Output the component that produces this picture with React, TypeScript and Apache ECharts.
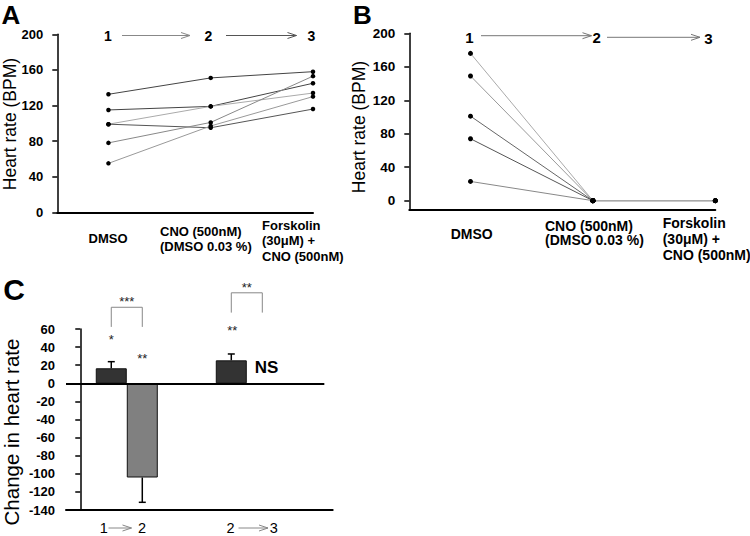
import React, { useEffect, useRef } from 'react';
import * as echarts from 'echarts';

const FONT = 'Arial, "Liberation Sans", Helvetica, sans-serif';

// ---------- Panels A & B : heart rate (BPM) per animal at stage 1, 2, 3 ----------
const stages = [1, 2, 3];
const stageNumbers = ['1', '2', '3'];
const stageLabels = ['DMSO', 'CNO (500nM)\n(DMSO 0.03 %)', 'Forskolin\n(30μM) +\nCNO (500nM)'];
const heartRateTicks = [0, 40, 80, 120, 160, 200];

const panelA = [
  [132.6, 151, 158],
  [115, 119, 145],
  [99, 119, 134],
  [99, 95, 116],
  [78, 101, 153],
  [55, 97, 130],
];
const panelAColors = ['#444', '#444', '#aaa', '#555', '#888', '#999'];

const panelB = [
  [176, 0, 0],
  [149, 0, 0],
  [101, 0, 0],
  [74, 0, 0],
  [23, 0, 0],
];
const panelBColors = ['#aaa', '#999', '#666', '#555', '#888'];

// ---------- Panel C : change in heart rate ----------
const changePairs = [['1', '2'], ['2', '3']];
const changeMeans = [16.6, -104.1, 25.4];
const changeErrors = [7.3, 27.4, 7.0];
const changeColors = ['#333', '#808080', '#333'];
const barX = [1, 2, 4.87];
const changeTicks = { min: -140, max: 60, interval: 20 };

// significance annotations: [x, y, text]
const sigMarks: [number, number, string][] = [
  [1, 48.2, '*'],
  [2, 26.9, '**'],
  [1.5, 90.6, '***'],
  [4.9, 58.1, '**'],
  [5.37, 106.4, '**'],
];
// brackets: [xLeft, xRight, yTop, yEnd]
const brackets: [number, number, number, number][] = [
  [1, 2, 84, 62.3],
  [4.87, 5.87, 100, 78.1],
];
const nsMark: [number, number, string] = [6.01, 17.7, 'NS'];

function txt(x: number, y: number, text: string, size: number, o: any = {}) {
  return {
    type: 'text',
    x,
    y,
    rotation: o.rot || 0,
    silent: true,
    style: {
      text,
      fontSize: size,
      fontFamily: FONT,
      fontWeight: o.bold ? 'bold' : 'normal',
      fill: '#000',
      textAlign: o.align || 'center',
      textVerticalAlign: 'middle',
      lineHeight: o.lh,
    },
  };
}

function arrow(x1: number, x2: number, y: number, color: string) {
  return [
    { type: 'line', silent: true, shape: { x1, y1: y, x2, y2: y }, style: { stroke: color, lineWidth: 1 } },
    {
      type: 'polyline',
      silent: true,
      shape: { points: [[x2 - 9, y - 3], [x2, y], [x2 - 9, y + 3]] },
      style: { stroke: color, fill: 'none', lineWidth: 1 },
    },
  ];
}

const axisBlack = { color: '#000', width: 1.5 };
const tickLabelStyle = { color: '#000', fontWeight: 'bold', fontSize: 13, fontFamily: FONT };

export default function App() {
  const ref = useRef<HTMLDivElement>(null);
  useEffect(() => {
    document.body.style.margin = '0';
    const chart = echarts.init(ref.current!, null, { renderer: 'svg' });

    const lineSeries: any[] = [];
    panelA.forEach((vals, i) => {
      lineSeries.push({
        type: 'line',
        xAxisIndex: 0,
        yAxisIndex: 0,
        data: vals.map((v, k) => [stages[k], v]),
        symbol: 'circle',
        symbolSize: 4.5,
        itemStyle: { color: '#000' },
        lineStyle: { color: panelAColors[i], width: 1 },
        z: 3,
      });
    });
    panelB.forEach((vals, i) => {
      lineSeries.push({
        type: 'line',
        xAxisIndex: 1,
        yAxisIndex: 1,
        data: vals.slice(1).map((v, k) => [stages[k + 1], v]),
        symbol: 'circle',
        symbolSize: 5,
        itemStyle: { color: '#000' },
        lineStyle: { color: '#aaa', width: 1 },
        z: 2,
      });
      lineSeries.push({
        type: 'line',
        xAxisIndex: 1,
        yAxisIndex: 1,
        data: vals.slice(0, 2).map((v, k) => [stages[k], v]),
        symbol: 'circle',
        symbolSize: 5,
        itemStyle: { color: '#000' },
        lineStyle: { color: panelBColors[i], width: 1 },
        z: 3,
      });
    });

    const graphic: any[] = [
      txt(11, 15, 'A', 26, { bold: true, lh: 26 }),
      txt(362.5, 15, 'B', 26, { bold: true, lh: 26 }),
      txt(14, 289, 'C', 30, { bold: true }),
      txt(9.5, 124, 'Heart rate (BPM)', 17.5, { rot: Math.PI / 2, lh: 17 }),
      txt(358.5, 127, 'Heart rate (BPM)', 17.5, { rot: Math.PI / 2, lh: 17 }),
      txt(11.5, 432, 'Change in heart rate', 20.5, { rot: Math.PI / 2, lh: 20 }),
      // panel A stage numbers
      txt(108, 36, stageNumbers[0], 14, { bold: true }),
      txt(208.5, 36, stageNumbers[1], 14, { bold: true }),
      txt(311.5, 36, stageNumbers[2], 14, { bold: true }),
      ...arrow(122, 190, 35.5, '#888'),
      ...arrow(226, 296.5, 35.5, '#555'),
      // panel B stage numbers
      txt(469.3, 37, stageNumbers[0], 15, { bold: true }),
      txt(596.7, 37, stageNumbers[1], 15, { bold: true }),
      txt(708.3, 38.5, stageNumbers[2], 15, { bold: true }),
      ...arrow(481, 591.5, 35.7, '#777'),
      ...arrow(607, 700, 37.3, '#777'),
      // panel A stage labels
      txt(108, 238, stageLabels[0], 13, { bold: true }),
      txt(160, 238.5, stageLabels[1], 13, { bold: true, align: 'left', lh: 15 }),
      txt(262, 240.5, stageLabels[2], 13, { bold: true, align: 'left', lh: 15.5 }),
      // panel B stage labels
      txt(471.7, 234, stageLabels[0], 14, { bold: true }),
      txt(545, 233, stageLabels[1], 14, { bold: true, align: 'left', lh: 14.5 }),
      txt(662.7, 239, stageLabels[2], 14, { bold: true, align: 'left', lh: 16 }),
      // panel C group labels
      txt(103.7, 527.5, changePairs[0][0], 14.5, { lh: 14 }),
      ...arrow(108.5, 131.5, 528, '#888'),
      txt(142, 527.5, changePairs[0][1], 14.5, { lh: 14 }),
      txt(230.5, 527.5, changePairs[1][0], 14.5, { lh: 14 }),
      ...arrow(238.5, 268, 528, '#888'),
      txt(273.7, 527.5, changePairs[1][1], 14.5, { lh: 14 }),
    ];

    const option: any = {
      animation: false,
      backgroundColor: '#fff',
      graphic,
      grid: [
        { left: 57.3, top: 34.3, width: 255.7, height: 178, containLabel: false, outerBoundsMode: 'none' },
        { left: 409.3, top: 33.3, width: 306, height: 176, containLabel: false, outerBoundsMode: 'none' },
        { left: 66, top: 329, width: 266.7, height: 181, containLabel: false, outerBoundsMode: 'none' },
      ],
      xAxis: [
        {
          gridIndex: 0, type: 'value', min: 0.5, max: 3,
          axisLine: { show: true, onZero: false, lineStyle: { color: '#000', width: 2 } },
          axisTick: { show: false }, axisLabel: { show: false }, splitLine: { show: false },
        },
        {
          gridIndex: 1, type: 'value', min: 0.5, max: 3,
          axisLine: { show: true, onZero: false, lineStyle: { color: '#000', width: 2 } },
          axisTick: { show: false }, axisLabel: { show: false }, splitLine: { show: false },
        },
        {
          gridIndex: 2, type: 'value', min: -0.46, max: 8.14,
          axisLine: { show: true, onZero: false, lineStyle: { color: '#000', width: 2 } },
          axisTick: { show: false }, axisLabel: { show: false }, splitLine: { show: false },
        },
      ],
      yAxis: [
        {
          gridIndex: 0, type: 'value', min: 0, max: 200, interval: 40,
          axisLine: { show: true, lineStyle: axisBlack },
          axisTick: { show: true, length: 5, lineStyle: axisBlack },
          axisLabel: { ...tickLabelStyle, margin: 14 },
          splitLine: { show: false },
        },
        {
          gridIndex: 1, type: 'value', min: -10.3, max: 200,
          axisLine: { show: true, lineStyle: axisBlack },
          axisTick: { show: true, length: 5, lineStyle: axisBlack, customValues: heartRateTicks },
          axisLabel: { ...tickLabelStyle, fontSize: 13.5, margin: 14, customValues: heartRateTicks },
          splitLine: { show: false },
        },
        {
          gridIndex: 2, type: 'value', ...changeTicks,
          axisLine: { show: true, lineStyle: axisBlack },
          axisTick: { show: true, length: 5, lineStyle: axisBlack },
          axisLabel: { ...tickLabelStyle, margin: 11 },
          splitLine: { show: false },
        },
      ],
      series: [
        ...lineSeries,
        {
          type: 'bar',
          xAxisIndex: 2,
          yAxisIndex: 2,
          barWidth: 31,
          data: changeMeans.map((m, i) => ({
            value: [barX[i], m],
            itemStyle: { color: changeColors[i], borderColor: '#111', borderWidth: 1 },
          })),
          markLine: {
            silent: true,
            symbol: ['none', 'none'],
            label: { show: false },
            lineStyle: { color: '#000', width: 2, type: 'solid' },
            data: [[{ coord: [-0.46, 0] }, { coord: [7.87, 0] }]],
          },
          z: 2,
        },
        {
          type: 'custom',
          xAxisIndex: 2,
          yAxisIndex: 2,
          clip: false,
          z: 5,
          data: changeMeans.map((m, i) => [barX[i], m, m + (m >= 0 ? 1 : -1) * changeErrors[i]]),
          renderItem: (params: any, api: any) => {
            const p0 = api.coord([api.value(0), api.value(1)]);
            const p1 = api.coord([api.value(0), api.value(2)]);
            return {
              type: 'group',
              children: [
                { type: 'line', shape: { x1: p0[0], y1: p0[1], x2: p1[0], y2: p1[1] }, style: { stroke: '#000', lineWidth: 1.5 } },
                { type: 'line', shape: { x1: p1[0] - 3.5, y1: p1[1], x2: p1[0] + 3.5, y2: p1[1] }, style: { stroke: '#000', lineWidth: 1.5 } },
              ],
            };
          },
        },
        {
          type: 'custom',
          xAxisIndex: 2,
          yAxisIndex: 2,
          clip: false,
          z: 5,
          data: brackets,
          renderItem: (params: any, api: any) => {
            const a = api.coord([api.value(0), api.value(3)]);
            const b = api.coord([api.value(0), api.value(2)]);
            const c = api.coord([api.value(1), api.value(2)]);
            const d = api.coord([api.value(1), api.value(3)]);
            return {
              type: 'polyline',
              shape: { points: [a, b, c, d] },
              style: { stroke: '#888', fill: 'none', lineWidth: 1 },
            };
          },
        },
        {
          type: 'custom',
          xAxisIndex: 2,
          yAxisIndex: 2,
          clip: false,
          z: 6,
          data: [...sigMarks, nsMark],
          renderItem: (params: any, api: any) => {
            const p = api.coord([api.value(0), api.value(1)]);
            const isNS = params.dataIndex === sigMarks.length;
            const label = isNS ? nsMark[2] : sigMarks[params.dataIndex][2];
            return {
              type: 'text',
              x: p[0],
              y: p[1],
              style: {
                text: label,
                fontSize: isNS ? 17 : 13,
                fontWeight: isNS ? 'bold' : 'normal',
                fontFamily: FONT,
                fill: isNS ? '#000' : '#222',
                textAlign: 'center',
                textVerticalAlign: 'middle',
              },
            };
          },
        },
      ],
    };
    chart.setOption(option);
    return () => chart.dispose();
  }, []);
  return <div ref={ref} style={{ position: 'absolute', left: 0, top: 0, width: 750, height: 536 }} />;
}
